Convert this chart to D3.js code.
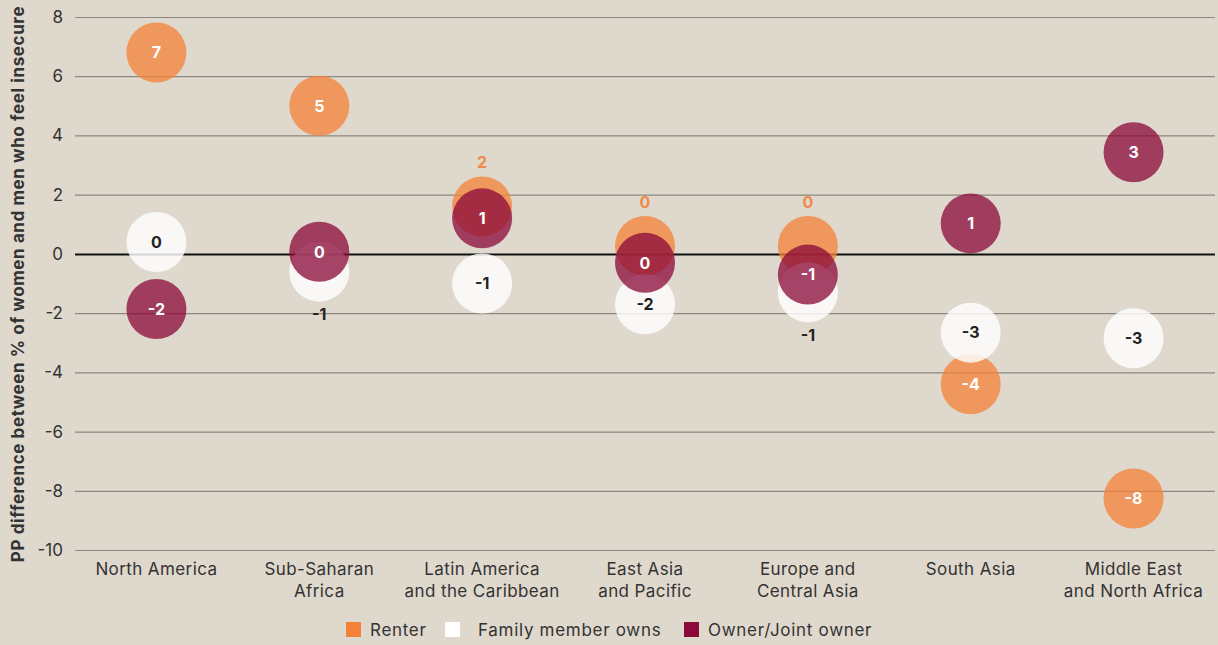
<!DOCTYPE html>
<html>
<head>
<meta charset="utf-8">
<script src="https://cdn.jsdelivr.net/npm/d3@7"></script>
<style>
  body { margin: 0; background: #dfd8cc; }
  text { font-family: Inter, "Noto Sans", sans-serif; }
</style>
</head>
<body>
<script>
// CONFIG VARS
// =============================================================================

const width = 1218;
const height = 645;
const padding = { left: 75, top: 17, right: 3, bottom: 96 };
const radius = 30;

// DATA
// =============================================================================

const regions = [
  ["North America"],
  ["Sub-Saharan", "Africa"],
  ["Latin America", "and the Caribbean"],
  ["East Asia", "and Pacific"],
  ["Europe and", "Central Asia"],
  ["South Asia"],
  ["Middle East", "and North Africa"]
];

const renter = [6.8, 5.0, 1.6, 0.27, 0.27, -4.4, -8.26];
const familyOwns = [0.4, -0.6, -1.0, -1.7, -1.3, -2.66, -2.85];
const owner = [-1.86, 0.07, 1.2, -0.3, -0.7, 1.03, 3.43];

const seriesNames = ["Renter", "Family member owns", "Owner/Joint owner"];
const yTicks = [8, 6, 4, 2, 0, -2, -4, -6, -8, -10];

const swatch = ["#f5823a", "#ffffff", "#8b0a3a"];
const fill = ["#f5823a", "#ffffff", "#8b0a3a"];
const insideText = ["#ffffff", "#222222", "#ffffff"];
const outsideText = ["#ef8a4c", "#222222", "#8b0a3a"];

// SCALES
// =============================================================================

const xScale = d3.scaleBand()
    .domain(d3.range(regions.length))
    .range([padding.left, width - padding.right]);

const yScale = d3.scaleLinear()
    .domain([-10, 8])
    .range([height - padding.bottom + 1, padding.top]);

// INITIALIZE THE SVG
// =============================================================================

const svg = d3.select("body")
    .append("svg")
    .attr("width", width)
    .attr("height", height);

svg.append("rect")
    .attr("width", width)
    .attr("height", height)
    .attr("fill", "#dfd8cc");

// AXES & GRID
// =============================================================================

const yAxis = svg.append("g")
    .attr("transform", `translate(${padding.left},0)`)
    .call(d3.axisLeft(yScale)
        .tickValues(yTicks)
        .tickSize(-(width - padding.left - padding.right))
        .tickPadding(12)
        .tickFormat(d => String(d)));

yAxis.select(".domain").remove();
yAxis.selectAll(".tick line")
    .attr("stroke", d => d === 0 ? "#111" : "#8d877f")
    .attr("stroke-width", d => d === 0 ? 2 : 1.2);
yAxis.selectAll(".tick text")
    .attr("fill", "#333")
    .style("font-size", "17px");

svg.append("text")
    .attr("transform", `translate(24,284) rotate(-90)`)
    .attr("text-anchor", "middle")
    .attr("fill", "#333")
    .style("font-size", "17px")
    .style("font-weight", "bold")
    .style("letter-spacing", "0.6px")
    .text("PP difference between % of women and men who feel insecure");

const xLabels = svg.append("g")
    .selectAll("text")
    .data(regions)
    .join("text")
    .attr("x", (d, i) => xScale(i) + xScale.bandwidth() / 2)
    .attr("y", 575)
    .attr("text-anchor", "middle")
    .attr("fill", "#333")
    .style("font-size", "17px")
    .style("letter-spacing", "0.4px");

xLabels.selectAll("tspan")
    .data(d => d)
    .join("tspan")
    .attr("x", function() { return d3.select(this.parentNode).attr("x"); })
    .attr("dy", (d, i) => i === 0 ? 0 : 22)
    .text(d => d);

// BUBBLES
// =============================================================================

const series = [renter, familyOwns, owner];

const points = [];
series.forEach((values, s) => {
  values.forEach((v, i) => points.push({ s: s, i: i, v: v }));
});

// label goes outside when a later-drawn bubble covers the centre
points.forEach(p => {
  const cy = yScale(p.v);
  const cover = points.filter(q => q.i === p.i && q.s > p.s &&
      Math.abs(yScale(q.v) - cy) < 32);
  p.labelPos = "inside";
  if (cover.length) {
    p.labelPos = yScale(cover[0].v) > cy ? "above" : "below";
  }
});

svg.append("g")
    .selectAll("circle")
    .data(points)
    .join("circle")
    .attr("cx", d => xScale(d.i) + xScale.bandwidth() / 2)
    .attr("cy", d => yScale(d.v))
    .attr("r", radius)
    .attr("fill", d => fill[d.s])
    .attr("fill-opacity", d => d.s === 1 ? 0.82 : 0.76);

svg.append("g")
    .selectAll("text")
    .data(points)
    .join("text")
    .attr("x", d => xScale(d.i) + xScale.bandwidth() / 2)
    .attr("y", d => {
      const cy = yScale(d.v);
      if (d.labelPos === "above") return cy - 44;
      if (d.labelPos === "below") return cy + 43;
      return cy;
    })
    .attr("dy", "0.36em")
    .attr("text-anchor", "middle")
    .attr("fill", d => d.labelPos === "inside" ? insideText[d.s] : outsideText[d.s])
    .style("font-size", "16px")
    .style("font-weight", "bold")
    .text(d => Math.round(d.v) + 0);

// LEGEND
// =============================================================================

const legendX = [346, 445, 684];

const legend = svg.append("g")
    .selectAll("g")
    .data(seriesNames)
    .join("g")
    .attr("transform", (d, i) => `translate(${legendX[i]},622)`);

legend.append("rect")
    .attr("width", 15)
    .attr("height", 15)
    .attr("fill", (d, i) => swatch[i]);

legend.append("text")
    .attr("x", (d, i) => i === 1 ? 33 : 24)
    .attr("y", 8)
    .attr("dy", "0.35em")
    .attr("fill", "#333")
    .style("font-size", "17px")
    .style("letter-spacing", "0.7px")
    .text(d => d);
</script>
</body>
</html>
